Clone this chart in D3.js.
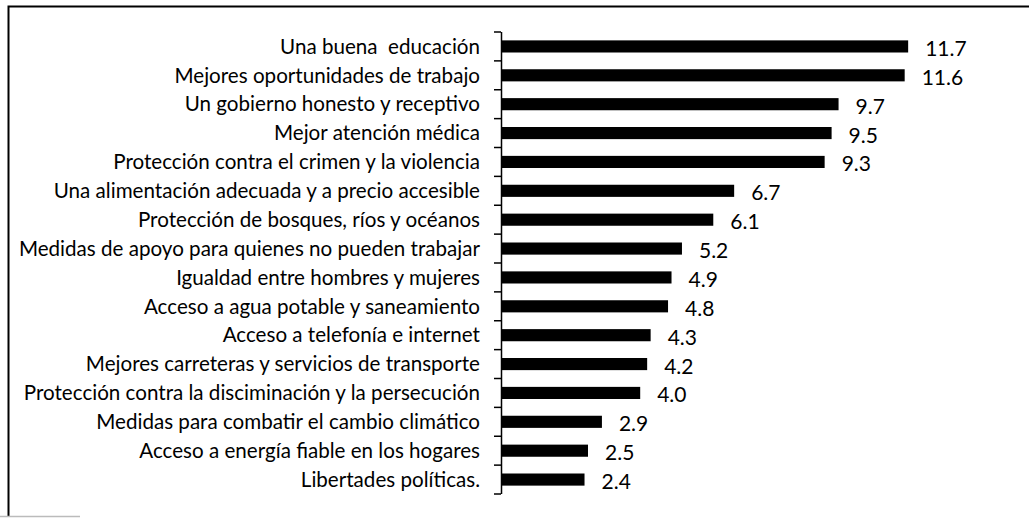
<!DOCTYPE html>
<html>
<head>
<meta charset="utf-8">
<script src="https://cdn.jsdelivr.net/npm/d3@7/dist/d3.min.js"></script>
<style>
  html, body { margin: 0; padding: 0; background: #fff; }
  svg { display: block; }
  text { font-family: Lato, "Open Sans", sans-serif; fill: #000; }
</style>
</head>
<body>
<svg id="chart" width="1029" height="519"></svg>
<script>
const categories = [
  "Una buena  educación",
  "Mejores oportunidades de trabajo",
  "Un gobierno honesto y receptivo",
  "Mejor atención médica",
  "Protección contra el crimen y la violencia",
  "Una alimentación adecuada y a precio accesible",
  "Protección de bosques, ríos y océanos",
  "Medidas de apoyo para quienes no pueden trabajar",
  "Igualdad entre hombres y mujeres",
  "Acceso a agua potable y saneamiento",
  "Acceso a telefonía e internet",
  "Mejores carreteras y servicios de transporte",
  "Protección contra la disciminación y la persecución",
  "Medidas para combatir el cambio climático",
  "Acceso a energía fiable en los hogares",
  "Libertades políticas."
];
const values = [11.7, 11.6, 9.7, 9.5, 9.3, 6.7, 6.1, 5.2, 4.9, 4.8, 4.3, 4.2, 4.0, 2.9, 2.5, 2.4];
const valueLabels = ["11.7", "11.6", "9.7", "9.5", "9.3", "6.7", "6.1", "5.2", "4.9", "4.8", "4.3", "4.2", "4.0", "2.9", "2.5", "2.4"];

const svg = d3.select("#chart");

// frame (scanned box: top and left edges visible, faint partial bottom)
svg.append("path")
  .attr("d", "M8.5,516 L8.5,6.5 L1029,6.5")
  .attr("fill", "none").attr("stroke", "#000").attr("stroke-width", 2);
svg.append("line")
  .attr("x1", 0).attr("x2", 80).attr("y1", 516.5).attr("y2", 516.5)
  .attr("stroke", "#bbb").attr("stroke-width", 1.5);

const x0 = 501, yTop = 32, yBot = 494;
const x = d3.scaleLinear().domain([0, 14]).range([x0, x0 + 14 * 34.8]);
const y = d3.scaleBand().domain(categories).range([yTop, yBot])
  .paddingInner(0.58).paddingOuter(0.29);

// bars
svg.append("g").selectAll("rect")
  .data(values)
  .join("rect")
  .attr("x", x(0))
  .attr("y", (d, i) => y(categories[i]))
  .attr("width", d => x(d) - x(0))
  .attr("height", y.bandwidth())
  .attr("fill", "#000");

// axis line and boundary ticks
const g = svg.append("g");
g.append("line")
  .attr("x1", x0 + 0.5).attr("x2", x0 + 0.5)
  .attr("y1", yTop).attr("y2", yBot)
  .attr("stroke", "#000").attr("stroke-width", 1.5);
const bounds = d3.scaleLinear().domain([0, categories.length]).range([yTop, yBot]);
g.selectAll("line.tick")
  .data(d3.range(categories.length + 1))
  .join("line")
  .attr("class", "tick")
  .attr("x1", x0 - 7).attr("x2", x0)
  .attr("y1", d => bounds(d)).attr("y2", d => bounds(d))
  .attr("stroke", "#000").attr("stroke-width", 1.5);

// category labels
svg.append("g").selectAll("text")
  .data(categories)
  .join("text")
  .attr("x", 480)
  .attr("y", d => y(d) + y.bandwidth() / 2)
  .attr("dy", "0.35em")
  .attr("text-anchor", "end")
  .attr("font-size", 20.6)
  .style("white-space", "pre")
  .text(d => d);

// value labels
svg.append("g").selectAll("text")
  .data(values)
  .join("text")
  .attr("x", d => x(d) + 17)
  .attr("y", (d, i) => y(categories[i]) + y.bandwidth() / 2)
  .attr("dy", "0.45em")
  .attr("font-size", 21)
  .text((d, i) => valueLabels[i]);
</script>
</body>
</html>
